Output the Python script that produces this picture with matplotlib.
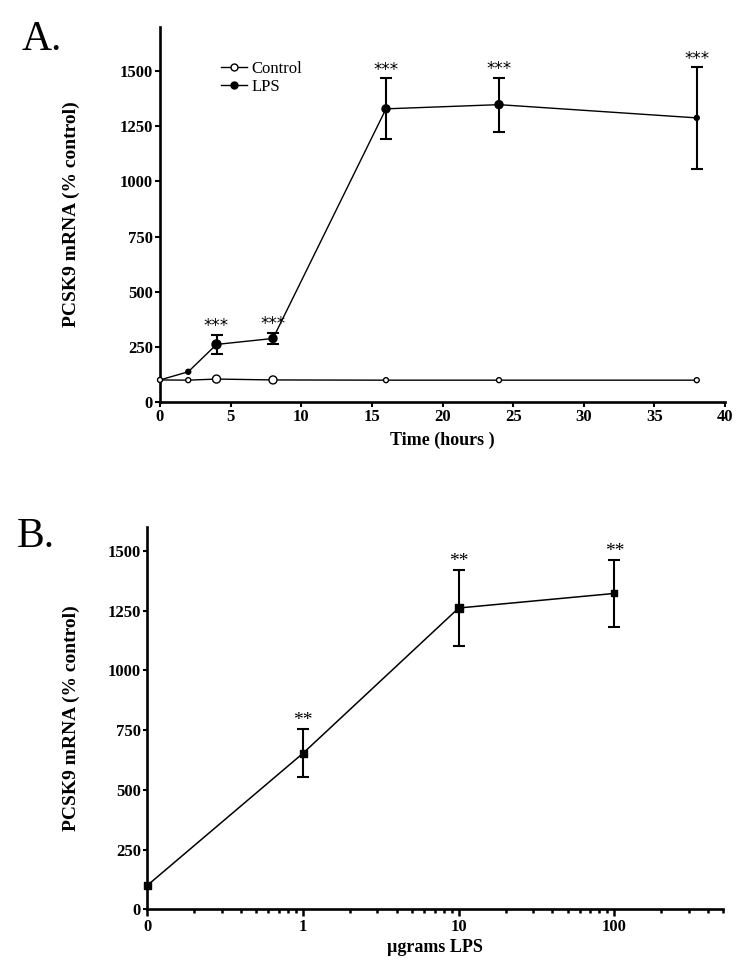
import numpy as np
import matplotlib
matplotlib.use('Agg')
import matplotlib.pyplot as plt
from matplotlib.ticker import LogLocator, NullFormatter, FixedLocator, FixedFormatter

# ---------------- data ----------------
time_h = [0, 2, 4, 8, 16, 24, 38]
control = [100, 99, 104, 100, 99, 99, 99]
lps = [100, 137, 261, 288, 1329, 1348, 1288]
lps_err = [0, 0, 43, 26, 138, 122, 230]
lps_sig = ['', '', '***', '***', '***', '***', '***']

time_ticks = [0, 5, 10, 15, 20, 25, 30, 35, 40]
resp_ticks = [0, 250, 500, 750, 1000, 1250, 1500]

dose = [0, 1, 10, 100]
dose_labels = ['0', '1', '10', '100']
dose_resp = [100, 653, 1261, 1322]
dose_err = [0, 101, 157, 139]
dose_sig = ['', '**', '**', '**']

# ---------------- style ----------------
SERIF = ['Liberation Serif', 'DejaVu Serif']
plt.rcParams['font.family'] = SERIF

ctrl_px = [5, 5, 8, 8, 5, 5, 5]
lps_px = [4, 5, 9, 8, 8, 8, 5]
dose_px = [7, 7, 8, 6]

def px2s(p):
    return (p * 0.72) ** 2

fig = plt.figure(figsize=(7.5, 9.72), dpi=100)
W, H = 750.0, 972.0

axA = fig.add_axes([160 / W, 1 - 402 / H, 565 / W, 375 / H])
axB = fig.add_axes([147.3 / W, 1 - 909.3 / H, 576 / W, 382.3 / H])

for ax in (axA, axB):
    for s in ('top', 'right'):
        ax.spines[s].set_visible(False)
    for s in ('left', 'bottom'):
        ax.spines[s].set_linewidth(1.9)
    ax.tick_params(axis='both', which='major', direction='out', width=1.5,
                   length=3.5, pad=1.5, labelsize=12)

# ---------------- panel A ----------------
axA.plot(time_h, lps, color='black', lw=1.0, zorder=2, clip_on=False)
errmask = np.array(lps_err) > 0
axA.errorbar(np.array(time_h)[errmask], np.array(lps)[errmask],
             yerr=np.array(lps_err)[errmask], fmt='none', ecolor='black',
             elinewidth=1.5, capsize=4.5, capthick=1.5, zorder=2)
axA.scatter(time_h, lps, s=[px2s(p) for p in lps_px], color='black',
            marker='o', zorder=3, clip_on=False)
axA.plot(time_h, control, color='black', lw=1.0, zorder=4, clip_on=False)
axA.scatter(time_h, control, s=[px2s(p) for p in ctrl_px], facecolor='white',
            edgecolor='black', linewidth=1.0, marker='o', zorder=5, clip_on=False)

for x, y, e, t in zip(time_h, lps, lps_err, lps_sig):
    if t:
        axA.annotate(t, xy=(x, y + e), xytext=(0, 2.5),
                     textcoords='offset points', ha='center', va='baseline',
                     fontsize=12, family=['DejaVu Sans'])

axA.set_xlim(0, 40)
axA.set_ylim(0, 1700)
axA.set_xticks(time_ticks)
axA.set_yticks(resp_ticks)
axA.set_xticklabels([str(t) for t in time_ticks], fontweight='bold')
axA.set_yticklabels([str(t) for t in resp_ticks], fontweight='bold')
axA.set_xlabel('Time (hours )', fontsize=13, fontweight='bold')
axA.set_ylabel('PCSK9 mRNA (% control)', fontsize=14, fontweight='bold')
axA.xaxis.set_label_coords(0.5, -0.08)
axA.yaxis.set_label_coords(-0.1416, 0.5)

hC, = axA.plot([], [], color='black', lw=1.0, marker='o', ms=5,
               mfc='white', mec='black')
hL, = axA.plot([], [], color='black', lw=1.0, marker='o', ms=5,
               mfc='black', mec='black')
axA.legend([hC, hL], ['Control', 'LPS'], loc='upper left',
           bbox_to_anchor=(0.108, 0.91), frameon=False, fontsize=12,
           handlelength=1.55, handletextpad=0.3, labelspacing=0.15,
           borderpad=0, borderaxespad=0)

fig.text(22 / W, 1 - 50 / H, 'A.', fontsize=30, va='baseline', ha='left')

# ---------------- panel B ----------------
dose_pos = [0.1 if d == 0 else d for d in dose]  # "0" is drawn one decade below 1
axB.set_xscale('log')
axB.plot(dose_pos, dose_resp, color='black', lw=1.1, zorder=2, clip_on=False)
dmask = np.array(dose_err) > 0
axB.errorbar(np.array(dose_pos)[dmask], np.array(dose_resp)[dmask],
             yerr=np.array(dose_err)[dmask], fmt='none', ecolor='black',
             elinewidth=1.5, capsize=4, capthick=1.5, zorder=2)
axB.scatter(dose_pos, dose_resp, s=[px2s(p) for p in dose_px], color='black',
            marker='s', zorder=3, clip_on=False)
for x, y, e, t in zip(dose_pos, dose_resp, dose_err, dose_sig):
    if t:
        axB.annotate(t, xy=(x, y + e), xytext=(0, 3), textcoords='offset points',
                     ha='center', va='baseline', fontsize=14)

axB.set_xlim(0.1, 500)
axB.set_ylim(0, 1600)
axB.xaxis.set_major_locator(FixedLocator(dose_pos))
axB.xaxis.set_major_formatter(FixedFormatter(dose_labels))
axB.xaxis.set_minor_locator(LogLocator(base=10, subs=np.arange(2, 10), numticks=20))
axB.xaxis.set_minor_formatter(NullFormatter())
axB.tick_params(axis='x', which='major', length=5, width=1.8, pad=2)
axB.tick_params(axis='x', which='minor', direction='out', length=3, width=1.8)
axB.tick_params(axis='y', which='major', length=3, width=1.5)
axB.set_yticks(resp_ticks)
axB.set_yticklabels([str(t) for t in resp_ticks], fontweight='bold')
for lab in axB.get_xticklabels():
    lab.set_fontweight('bold')
axB.set_xlabel('µgrams LPS', fontsize=13, fontweight='bold')
axB.set_ylabel('PCSK9 mRNA (% control)', fontsize=14, fontweight='bold')
axB.xaxis.set_label_coords(0.5, -0.078)
axB.yaxis.set_label_coords(-0.117, 0.5)

fig.text(17 / W, 1 - 547 / H, 'B.', fontsize=30, va='baseline', ha='left')

fig.savefig('out.png', dpi=100)
